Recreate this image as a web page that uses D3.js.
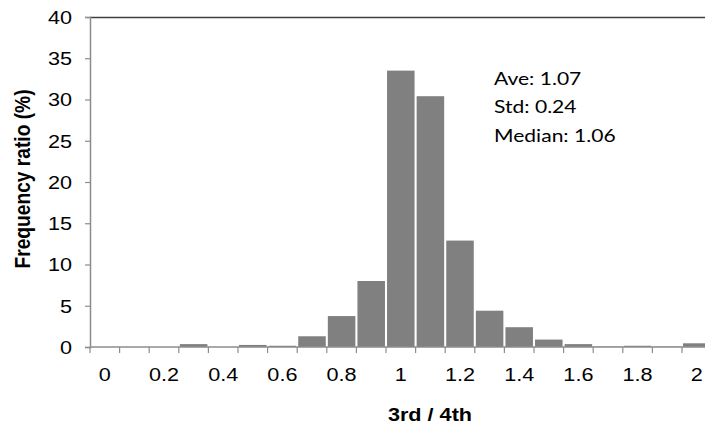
<!DOCTYPE html>
<html>
<head>
<meta charset="utf-8">
<script src="https://cdn.jsdelivr.net/npm/d3@7"></script>
<style>
  body { margin: 0; background: #fff; }
</style>
</head>
<body>
<div id="chart"></div>
<script>
// bins of the 3rd / 4th ratio, step 0.1
const bins = [0, 0.1, 0.2, 0.3, 0.4, 0.5, 0.6, 0.7, 0.8, 0.9, 1.0,
              1.1, 1.2, 1.3, 1.4, 1.5, 1.6, 1.7, 1.8, 1.9, 2.0];
// frequency ratio (%)
const freq = [0, 0, 0, 0.35, 0, 0.25, 0.15, 1.3, 3.75, 8.0, 33.5,
              30.4, 12.9, 4.4, 2.4, 0.9, 0.35, 0.05, 0.15, 0.05, 0.45];
const yTicks = [0, 5, 10, 15, 20, 25, 30, 35, 40];
const xLabels = [0, 0.2, 0.4, 0.6, 0.8, 1, 1.2, 1.4, 1.6, 1.8, 2];
const stats = ["Ave: 1.07", "Std: 0.24", "Median: 1.06"];

const width = 705, height = 428;
const margin = {left: 90, top: 17, bottom: 81};
const step = 29.6;
const innerW = step * bins.length;
const innerH = height - margin.top - margin.bottom;
const sx = 1.17; // the source picture is stretched sideways
const sans = "'Liberation Sans', Arial, sans-serif";

const svg = d3.select("#chart").append("svg")
    .attr("width", width)
    .attr("height", height);

const g = svg.append("g")
    .attr("transform", `translate(${margin.left}, ${margin.top})`);

const x = d3.scaleBand()
    .domain(bins)
    .range([0, innerW])
    .paddingInner(0.07)
    .paddingOuter(0.035);

const y = d3.scaleLinear()
    .domain([0, 40])
    .range([innerH, 0]);

// places a text at (px, py) with the sideways stretch
const stretched = (px, py) => `translate(${px}, ${py}) scale(${sx}, 1)`;

// bars
g.selectAll("rect.bar")
    .data(bins)
    .enter()
    .append("rect")
    .attr("class", "bar")
    .attr("x", d => x(d))
    .attr("width", x.bandwidth())
    .attr("y", (d, i) => y(freq[i]))
    .attr("height", (d, i) => innerH - y(freq[i]))
    .attr("fill", "#808080");

// top border of plot area
g.append("line")
    .attr("x1", 0).attr("x2", innerW)
    .attr("y1", 0.5).attr("y2", 0.5)
    .attr("stroke", "#404040")
    .attr("stroke-width", 1.5);

// y axis
const yAxis = g.append("g")
    .call(d3.axisLeft(y).tickValues(yTicks).tickSize(5).tickFormat(""));
yAxis.select(".domain").attr("stroke", "#8c8c8c").attr("stroke-width", 1.5);
yAxis.selectAll(".tick line").attr("stroke", "#8c8c8c").attr("stroke-width", 1.2);
g.append("g")
    .selectAll("text")
    .data(yTicks)
    .enter()
    .append("text")
    .attr("transform", d => stretched(-18, y(d) + 6.8))
    .attr("text-anchor", "end")
    .attr("font-size", 18.5)
    .attr("font-family", sans)
    .attr("fill", "#000")
    .text(d => d);

// x axis: ticks at bin boundaries, labels at bin centres
const xEdge = d3.scaleLinear().domain([0, bins.length]).range([0, innerW]);
const xAxis = g.append("g")
    .attr("transform", `translate(0, ${innerH})`);
xAxis.append("line")
    .attr("x1", 0).attr("x2", innerW)
    .attr("stroke", "#8c8c8c")
    .attr("stroke-width", 1.5);
xAxis.selectAll("line.tick")
    .data(d3.range(bins.length + 1))
    .enter()
    .append("line")
    .attr("class", "tick")
    .attr("x1", d => xEdge(d)).attr("x2", d => xEdge(d))
    .attr("y1", 0).attr("y2", 6)
    .attr("stroke", "#8c8c8c")
    .attr("stroke-width", 1.2);
xAxis.selectAll("text")
    .data(xLabels)
    .enter()
    .append("text")
    .attr("transform", d => stretched(x(+d.toFixed(1)) + x.bandwidth() / 2, 33.5))
    .attr("text-anchor", "middle")
    .attr("font-size", 18.5)
    .attr("font-family", sans)
    .attr("fill", "#000")
    .text(d => d);

// axis titles
svg.append("text")
    .attr("transform", stretched(430, 421))
    .attr("text-anchor", "middle")
    .attr("font-size", 18.5)
    .attr("font-weight", "bold")
    .attr("font-family", sans)
    .text("3rd / 4th");

svg.append("text")
    .attr("transform", `translate(29.5, 179) rotate(-90) scale(1, ${sx})`)
    .attr("text-anchor", "middle")
    .attr("font-size", 19.2)
    .attr("font-weight", "bold")
    .attr("font-family", sans)
    .text("Frequency ratio (%)");

// summary statistics
g.append("g")
    .selectAll("text")
    .data(stats)
    .enter()
    .append("text")
    .attr("transform", (d, i) => stretched(404, 68 + i * 28.3))
    .attr("font-size", 18)
    .attr("font-family", "Lato, 'Open Sans', sans-serif")
    .attr("fill", "#000")
    .text(d => d);
</script>
</body>
</html>
